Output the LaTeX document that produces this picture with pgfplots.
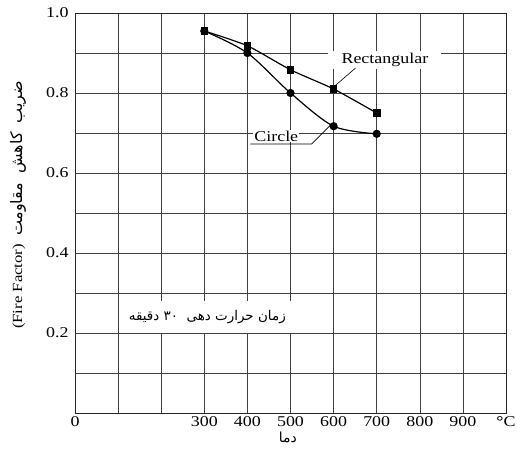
\documentclass[border=0pt]{standalone}
\usepackage{fontspec}
\setmainfont{Liberation Serif}[FakeStretch=1.2]
\newfontfamily\arabicfont[Script=Arabic]{DejaVu Sans}
\TeXXeTstate=1
\usepackage{pgfplots}
\pgfplotsset{compat=1.18}

\begin{document}
\begin{tikzpicture}
\begin{axis}[
    scale only axis,
    width=431bp, height=400bp,
    xmin=0, xmax=1000, ymin=0, ymax=1,
    xtick={0,100,200,300,400,500,600,700,800,900,1000},
    xticklabels={0,,,300,400,500,600,700,800,900,\textbf{°}C},
    ytick={0,0.1,0.2,0.3,0.4,0.5,0.6,0.7,0.8,0.9,1.0},
    yticklabels={,,0.2,,0.4,,0.6,,0.8,,1.0},
    grid=major,
    major grid style={black!75, line width=0.6pt},
    axis line style={black!85, line width=0.9pt},
    tick style={draw=none},
    tick label style={font=\fontsize{15}{15}\selectfont},
    yticklabel style={xshift=-3bp},
    every axis y label/.style={at={(axis description cs:-0.132,0.52)}, rotate=90, anchor=center},
    every axis x label/.style={at={(axis description cs:0.494,-0.062)}, anchor=center},
    ylabel={\fontsize{14}{14}\selectfont (Fire Factor)\hspace{8bp}{\arabicfont\fontsize{16}{16}\selectfont\beginR ضریب\hspace{9bp}کاهش\hspace{9bp}مقاومت\endR}},
    xlabel={\arabicfont\fontsize{14}{14}\selectfont\beginR دما\endR},
]
\coordinate (sw) at (rel axis cs:0,0);
\coordinate (ne) at (rel axis cs:1,1);

% Rectangular
\addplot[black, line width=1.2pt, smooth, tension=0.4, mark=square*, mark size=3.2bp, mark options={solid}]
coordinates {(300,0.955) (400,0.918) (500,0.858) (600,0.81) (700,0.75)};
% Circle
\addplot[black, line width=1.2pt, smooth, mark=*, mark size=3.5bp, mark options={solid}]
coordinates {(300,0.955) (400,0.90) (500,0.80) (600,0.717) (700,0.698)};

\node[fill=white, inner sep=0pt, minimum width=113bp, minimum height=18bp,
      font=\fontsize{15}{15}\selectfont] at (axis cs:719,0.8825) {Rectangular};
\draw[black, line width=0.6pt] (axis cs:600,0.815) -- (axis cs:651,0.8625);

\node[fill=white, inner sep=1bp, font=\fontsize{15}{15}\selectfont] at (axis cs:467,0.692) {Circle};
\draw[black, line width=0.6pt] (axis cs:407,0.6725) -- (axis cs:549,0.6725) -- (axis cs:593,0.72);

\node[fill=white, inner sep=0pt, minimum width=172bp, minimum height=32bp,
      font=\arabicfont\fontsize{13.5}{13.5}\selectfont] at (axis cs:307,0.24)
      {\beginR زمان حرارت دهی\ \ ۳۰ دقیقه\endR};
\end{axis}
\pgfresetboundingbox
\path ([xshift=-75bp,yshift=-37bp]sw) rectangle ([xshift=11bp,yshift=13bp]ne);
\end{tikzpicture}
\end{document}
